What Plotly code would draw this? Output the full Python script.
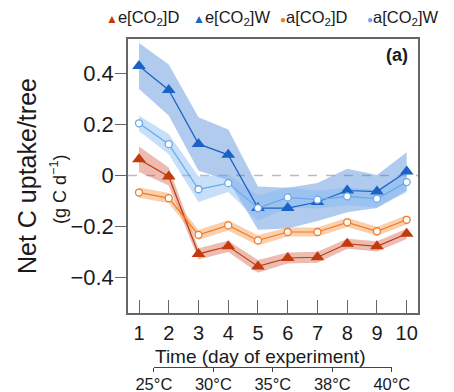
import plotly.graph_objects as go

days = [1, 2, 3, 4, 5, 6, 7, 8, 9, 10]
series_names = ["e[CO<sub>2</sub>]D", "e[CO<sub>2</sub>]W", "a[CO<sub>2</sub>]D", "a[CO<sub>2</sub>]W"]

eD_mean = [0.064, -0.004, -0.308, -0.278, -0.357, -0.324, -0.321, -0.268, -0.278, -0.229]
eD_se   = [0.050, 0.035, 0.022, 0.022, 0.025, 0.022, 0.022, 0.020, 0.020, 0.020]
eW_mean = [0.430, 0.336, 0.124, 0.081, -0.128, -0.128, -0.104, -0.059, -0.063, 0.016]
eW_se   = [0.090, 0.100, 0.105, 0.100, 0.085, 0.080, 0.075, 0.085, 0.065, 0.075]
aD_mean = [-0.067, -0.089, -0.233, -0.196, -0.255, -0.222, -0.222, -0.184, -0.219, -0.174]
aD_se   = [0.020, 0.020, 0.020, 0.020, 0.020, 0.018, 0.018, 0.018, 0.018, 0.018]
aW_mean = [0.205, 0.123, -0.054, -0.030, -0.128, -0.086, -0.095, -0.082, -0.091, -0.026]
aW_se   = [0.030, 0.040, 0.050, 0.035, 0.050, 0.040, 0.035, 0.035, 0.035, 0.040]

temp_pos = [1.5, 3.5, 5.5, 7.5, 9.5]
temp_labels = ["25°C", "30°C", "35°C", "38°C", "40°C"]

y_ticks = [-0.4, -0.2, 0, 0.2, 0.4]

# page body margin of the html page shifts the figure by 8 px
OFF = 8
WIN_W, WIN_H = 454, 392
W, H = WIN_W - OFF, WIN_H - OFF
# window-pixel positions of the plot frame and the temperature axis line
box_l, box_r, box_t, box_b = 128, 418, 39, 313
temp_line = 367
L, R, T, B = box_l - OFF, WIN_W - box_r, box_t - OFF, WIN_H - temp_line
PW, PH = W - L - R, H - T - B
ydom0 = (temp_line - box_b) / PH
xr = [0.63, 10.38]

def px_x(px):
    return (px - OFF - L) / PW

def px_y(py):
    return (H - B - (py - OFF)) / PH

styles = [
    # mean, se, line color, band color, symbol, size
    (eD_mean, eD_se, "#C23A0E", "rgba(205,80,50,0.38)", "triangle-up", 12),
    (eW_mean, eW_se, "#1A62C4", "rgba(60,125,215,0.40)", "triangle-up", 12),
    (aD_mean, aD_se, "#EE7A2A", "rgba(245,150,70,0.45)", "circle", 7),
    (aW_mean, aW_se, "#67A9EC", "rgba(130,185,240,0.45)", "circle", 7),
]
band_order = [1, 3, 0, 2]

fig = go.Figure()

for i in band_order:
    m, s, lc, bc, sym, sz = styles[i]
    up = [a + b for a, b in zip(m, s)]
    lo = [a - b for a, b in zip(m, s)]
    fig.add_trace(go.Scatter(
        x=days + days[::-1], y=up + lo[::-1], fill="toself", fillcolor=bc,
        line=dict(width=0), mode="lines", hoverinfo="skip", showlegend=False))

for i in band_order:
    m, s, lc, bc, sym, sz = styles[i]
    if sym == "circle":
        marker = dict(symbol=sym, size=sz, color="white", line=dict(color=lc, width=1.3))
    else:
        marker = dict(symbol=sym, size=sz, color=lc, line=dict(width=0))
    fig.add_trace(go.Scatter(
        x=days, y=m, mode="lines+markers", line=dict(color=lc, width=1.2),
        marker=marker, name=series_names[i], showlegend=False))

# invisible trace for the temperature axis
fig.add_trace(go.Scatter(x=temp_pos, y=[None] * len(temp_pos), xaxis="x2", yaxis="y",
                         mode="markers", showlegend=False, hoverinfo="skip"))

fig.add_shape(type="line", xref="x domain", yref="y", x0=0, x1=1, y0=0, y1=0,
              line=dict(color="#BBBBBB", width=1.5, dash="dash"), layer="below")

font_family = "Arial, Liberation Sans, Helvetica, sans-serif"

fig.update_layout(
    width=W, height=H,
    margin=dict(l=L, r=R, t=T, b=B, pad=0, autoexpand=False),
    paper_bgcolor="white", plot_bgcolor="rgba(0,0,0,0)",
    font=dict(family=font_family, color="#1a1a1a"),
    showlegend=False,
    xaxis=dict(range=xr, domain=[0, 1], tickvals=days, ticks="inside", ticklen=13,
               tickcolor="#666", tickwidth=1.2, showline=True, linecolor="#666",
               linewidth=1.5, mirror=True, showgrid=False, zeroline=False,
               tickfont=dict(size=20), ticklabelstandoff=1, anchor="y",
               automargin=False),
    xaxis2=dict(range=[temp_pos[0], temp_pos[-1]],
                domain=[(temp_pos[0] - xr[0]) / (xr[1] - xr[0]),
                        (temp_pos[-1] - xr[0]) / (xr[1] - xr[0])],
                anchor="free", position=0, side="bottom",
                tickvals=temp_pos, ticktext=temp_labels, ticks="outside", ticklen=4,
                tickcolor="#444", showline=True, linecolor="#444", linewidth=1.2,
                showgrid=False, zeroline=False, tickfont=dict(size=16.5),
                ticklabelstandoff=-2, automargin=False),
    yaxis=dict(range=[-0.54, 0.536], domain=[ydom0, 1], tickvals=y_ticks,
               ticks="outside", ticklen=11, tickcolor="#666", tickwidth=1.2,
               showline=True, linecolor="#666", linewidth=1.5, mirror=True,
               showgrid=False, zeroline=False, tickfont=dict(size=22),
               ticklabelstandoff=-3, automargin=False),
)

ann = [
    dict(text="<b>(a)</b>", x=px_x(397), y=px_y(55), font=dict(size=18)),
    dict(text="Time (day of experiment)", x=px_x(259.5), y=px_y(356), font=dict(size=19)),
    dict(text="Net C uptake/tree", x=px_x(27), y=px_y(176), font=dict(size=25), textangle=-90),
    dict(text="(g C d<sup>−1</sup>)", x=px_x(58), y=px_y(190), font=dict(size=18), textangle=-90),
]
for a in ann:
    fig.add_annotation(xref="paper", yref="paper", showarrow=False,
                       xanchor="center", yanchor="middle", **a)

# manual legend
leg_x = [104, 191, 278, 365]
for i, lx in enumerate(leg_x):
    m, s, lc, bc, sym, sz = styles[i]
    glyph = "▲" if sym == "triangle-up" else "●"
    gsize = 12 if sym == "triangle-up" else 10
    fig.add_annotation(xref="paper", yref="paper", showarrow=False, xanchor="left",
                       yanchor="middle", x=px_x(lx), y=px_y(18),
                       text=f"<span style='color:{lc};font-size:{gsize}px'>{glyph}</span>{series_names[i]}",
                       font=dict(size=16.5))

fig.write_html("out.html")
